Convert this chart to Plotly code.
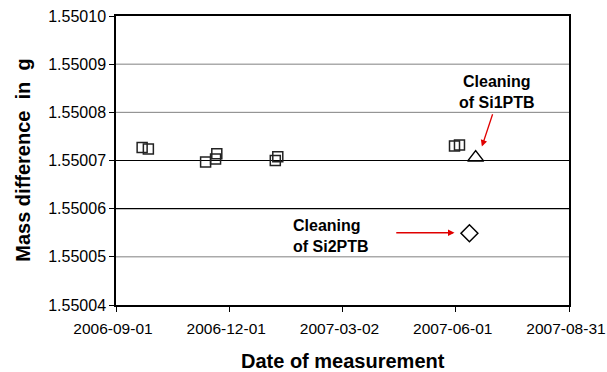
import plotly.graph_objects as go

sq_dates = ["2006-09-22", "2006-09-27", "2006-11-12", "2006-11-20", "2006-11-21",
            "2007-01-07", "2007-01-09", "2007-05-31", "2007-06-04"]
sq_values = [1.5500727, 1.5500724, 1.5500697, 1.5500703, 1.5500714,
             1.5500700, 1.5500708, 1.5500730, 1.5500732]
tri_dates = ["2007-06-17"]
tri_values = [1.5500706]
dia_dates = ["2007-06-12"]
dia_values = [1.5500549]

x_ticks = ["2006-09-01", "2006-12-01", "2007-03-02", "2007-06-01", "2007-08-31"]
y_ticks = [1.55004, 1.55005, 1.55006, 1.55007, 1.55008, 1.55009, 1.55010]
y_tick_text = ["%.5f" % v for v in y_ticks]
grid_values = [1.55005, 1.55006, 1.55007, 1.55008, 1.55009]
grid_colors = ["#808080", "#000000", "#000000", "#808080", "#808080"]

fig = go.Figure()
fig.add_trace(go.Scatter(x=sq_dates, y=sq_values, mode="markers",
                         marker=dict(symbol="square-open", size=10, color="#222",
                                     line=dict(width=1.5, color="#222")),
                         showlegend=False))
fig.add_trace(go.Scatter(x=tri_dates, y=tri_values, mode="markers",
                         marker=dict(symbol="triangle-up-open", size=14, color="#000",
                                     line=dict(width=1.5, color="#000")),
                         showlegend=False))
fig.add_trace(go.Scatter(x=dia_dates, y=dia_values, mode="markers",
                         marker=dict(symbol="diamond-open", size=13, color="#000",
                                     line=dict(width=1.5, color="#000")),
                         showlegend=False))

for v, c in zip(grid_values, grid_colors):
    fig.add_shape(type="line", xref="paper", x0=0, x1=1, yref="y", y0=v, y1=v,
                  line=dict(color=c, width=1.2 if c == "#000000" else 1),
                  layer="below")

fnt = "Liberation Sans, Arial, sans-serif"
fig.update_layout(
    width=607, height=372,
    margin=dict(l=116, r=38, t=16, b=67),
    paper_bgcolor="white", plot_bgcolor="white",
    font=dict(family=fnt, size=16, color="#000"),
    xaxis=dict(type="date", range=[x_ticks[0], x_ticks[-1]], tickvals=x_ticks,
               ticktext=x_ticks, showgrid=False, showline=True, linecolor="#000",
               linewidth=1.5, mirror=True, ticks="outside", ticklen=5,
               ticklabelstandoff=4, ticklabelshift=-3, ticklabeloverflow="allow",
               automargin=False,
               tickcolor="#000", tickfont=dict(size=15.5, family=fnt), zeroline=False),
    yaxis=dict(range=[y_ticks[0], y_ticks[-1]], tickvals=y_ticks, ticktext=y_tick_text,
               showgrid=False, showline=True,
               linecolor="#000", linewidth=1.5, mirror=True, ticks="outside",
               ticklen=5, tickcolor="#000", tickfont=dict(size=16, family=fnt),
               zeroline=False, automargin=False),
    annotations=[
        dict(text="<b>Date of measurement</b>", xref="paper", yref="paper",
             x=0.5, y=-0.195, xanchor="center", yanchor="middle", showarrow=False,
             font=dict(size=20, family=fnt)),
        dict(text="<b>Mass difference  in  g</b>", xref="paper", yref="paper",
             x=-0.207, y=0.5, xanchor="center", yanchor="middle", textangle=-90,
             showarrow=False, font=dict(size=20, family=fnt)),
        dict(text="<b>Cleaning<br>of Si1PTB</b>", xref="x", yref="y",
             x="2007-07-04", y=1.5500842, xanchor="center", yanchor="middle",
             align="center", showarrow=False, font=dict(size=16, family=fnt)),
        dict(text="<b>Cleaning<br>of Si2PTB</b>", xref="x", yref="y",
             x="2007-01-20", y=1.5500543, xanchor="left", yanchor="middle",
             align="left", showarrow=False, font=dict(size=16, family=fnt)),
        dict(text="", xref="x", yref="y", axref="x", ayref="y",
             x="2007-06-22", y=1.5500729, ax="2007-07-01", ay=1.5500799,
             showarrow=True, arrowhead=2, arrowsize=1, arrowwidth=1.3,
             arrowcolor="#e00000"),
        dict(text="", xref="x", yref="y", axref="x", ayref="y",
             x="2007-05-31", y=1.550055, ax="2007-04-13", ay=1.550055,
             showarrow=True, arrowhead=2, arrowsize=1, arrowwidth=1.3,
             arrowcolor="#e00000"),
    ],
)

fig.write_html("out.html")
